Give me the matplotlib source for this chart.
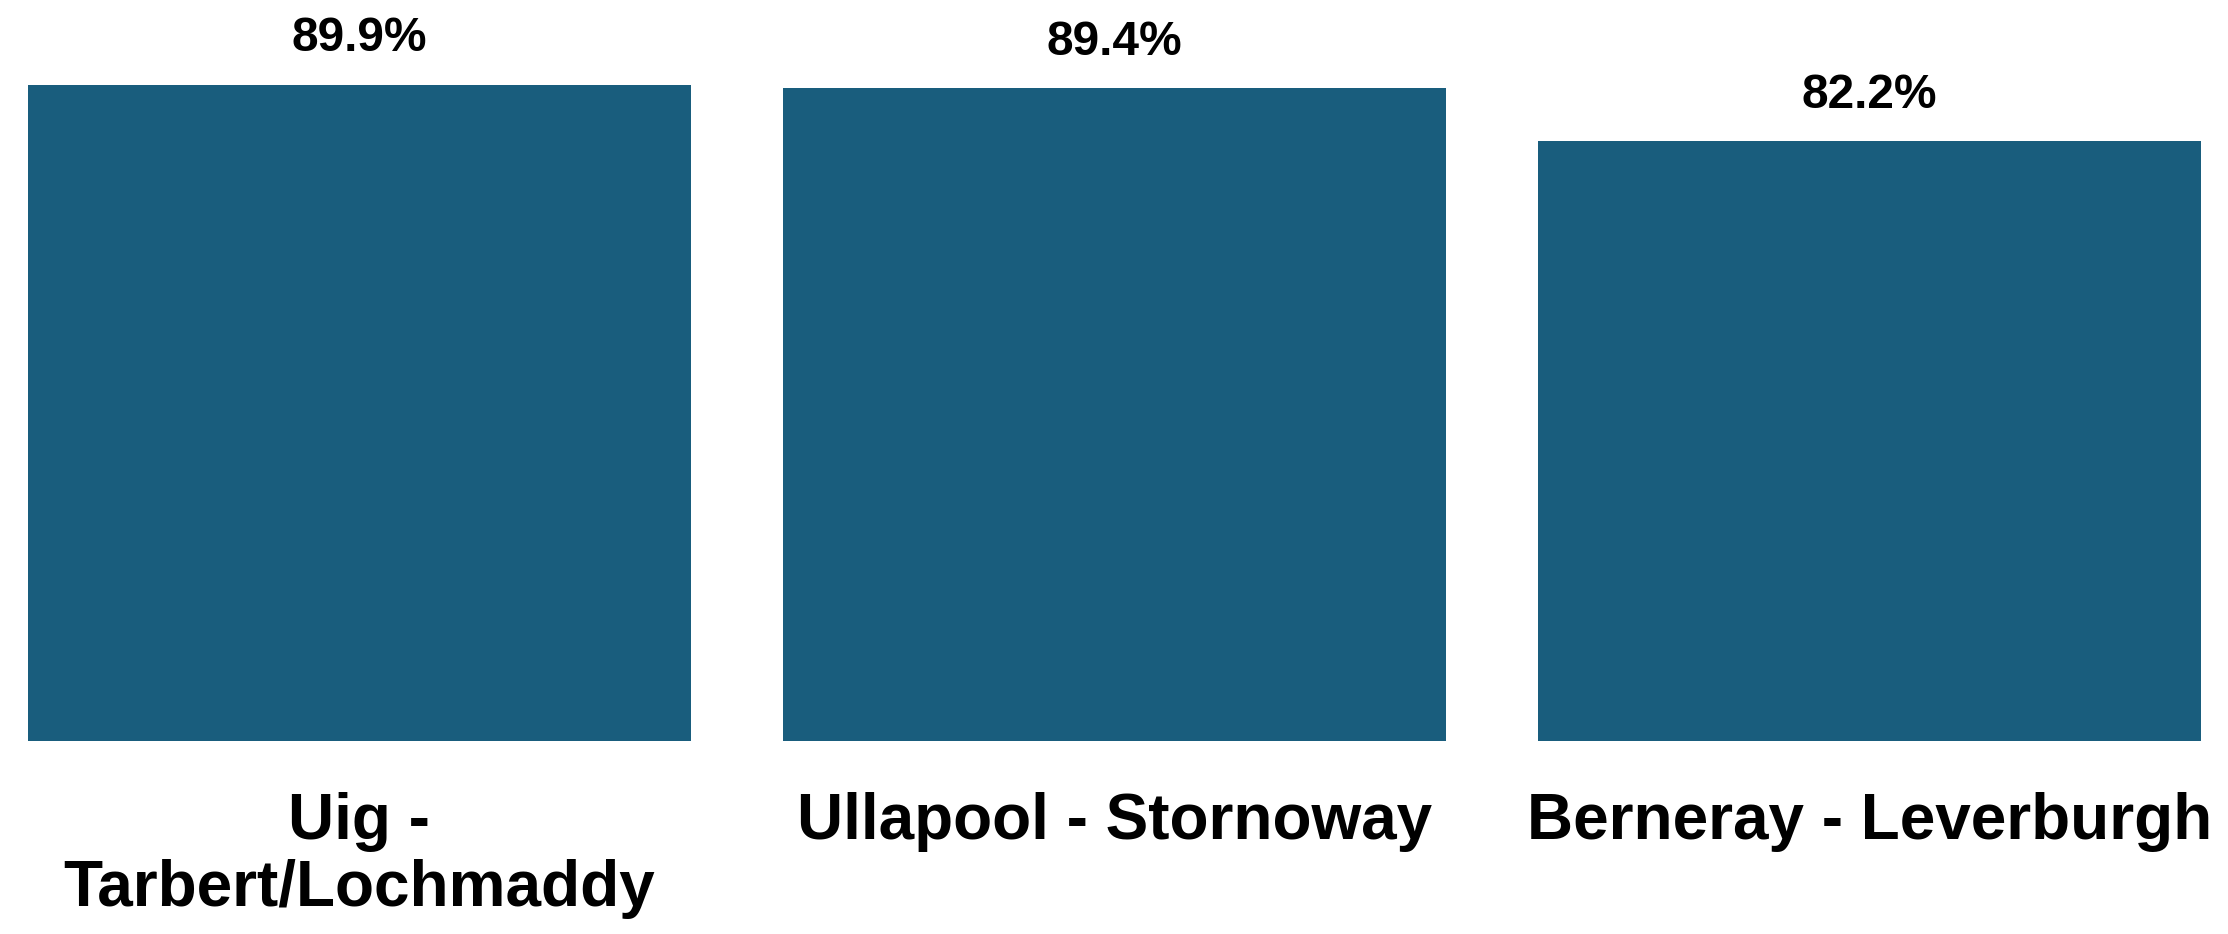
import matplotlib.pyplot as plt

# Ferry route punctuality (share of sailings)
routes = ["Uig -\nTarbert/Lochmaddy", "Ullapool - Stornoway", "Berneray - Leverburgh"]
values = [89.9, 89.4, 82.2]

BAR_COLOR = "#195d7d"
FONT = ["Liberation Sans", "DejaVu Sans"]

fig = plt.figure(figsize=(22.28, 9.34), dpi=100)
ax = fig.add_axes([0, 0.2066, 1, 0.7934])

x = range(len(routes))
bars = ax.bar(x, values, width=0.878, color=BAR_COLOR)

ax.set_xlim(-0.476, 2.475)
ax.set_ylim(0, 101.5)

# value labels above each bar
for rect, val in zip(bars, values):
    ax.annotate(
        f"{val:.1f}%",
        xy=(rect.get_x() + rect.get_width() / 2, rect.get_height()),
        xytext=(0, 33),
        textcoords="offset points",
        ha="center",
        va="center",
        fontsize=34.5,
        fontweight="bold",
        family=FONT,
    )

ax.set_xticks(list(x))
ax.set_xticklabels(routes, fontsize=46, fontweight="bold", family=FONT,
                   linespacing=1.15)
ax.tick_params(axis="x", length=0, pad=37)
ax.set_yticks([])
for spine in ax.spines.values():
    spine.set_visible(False)

fig.savefig("out.png", dpi=100)
